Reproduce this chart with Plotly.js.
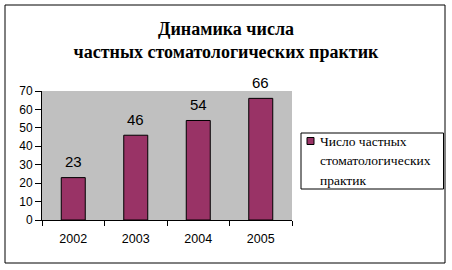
<!DOCTYPE html>
<html>
<head>
<meta charset="utf-8">
<script src="https://cdn.plot.ly/plotly-3.0.1.min.js"></script>
<style>html,body{margin:0;padding:0;background:#fff;}#chart{width:452px;height:270px;}</style>
</head>
<body>
<div id="chart"></div>
<script>
var years = ['2002', '2003', '2004', '2005'];
var counts = [23, 46, 54, 66];
var seriesName = 'Число частных<br>стоматологических<br>практик';
var titleText = 'Динамика числа<br>частных стоматологических практик';

var SERIF = "Liberation Serif";
var SANS = "Liberation Sans";

var W = 452, H = 270, L = 42, R = 160, T = 91, B = 50;
var pw = W - L - R, ph = H - T - B;
function px(x) { return (x - L) / pw; }
function py(y) { return (H - B - y) / ph; }

var trace = {
  type: 'bar',
  x: years,
  y: counts,
  name: seriesName,
  marker: {color: '#993366', line: {color: '#000', width: 1}},
  hoverinfo: 'none',
  showlegend: false
};

var annotations = years.map(function (yr, i) {
  return {
    x: i, y: counts[i], xref: 'x', yref: 'y',
    text: String(counts[i]), showarrow: false,
    yanchor: 'middle', yshift: 16,
    font: {family: SANS, size: 15, color: '#000'}
  };
});
seriesName.split('<br>').forEach(function (line, i) {
  annotations.push({
    xref: 'paper', yref: 'paper', x: px(318), y: py(141 + i * 19.5),
    xanchor: 'left', yanchor: 'middle', align: 'left',
    text: line, showarrow: false,
    font: {family: SERIF, size: 13.5, color: '#000'}
  });
});

var shapes = [
  {type: 'rect', xref: 'paper', yref: 'paper', x0: px(5), x1: px(445), y0: py(263), y1: py(5),
   line: {color: '#000', width: 1}, fillcolor: 'rgba(0,0,0,0)'},
  {type: 'rect', xref: 'paper', yref: 'paper', x0: px(301), x1: px(443.5), y0: py(189), y1: py(133),
   line: {color: '#000', width: 1}, fillcolor: '#fff'},
  {type: 'rect', xref: 'paper', yref: 'paper', x0: px(307), x1: px(314), y0: py(144.5), y1: py(137.5),
   line: {color: '#000', width: 1}, fillcolor: '#993366'}
];

var layout = {
  width: W, height: H,
  margin: {l: L, r: R, t: T, b: B, pad: 0},
  paper_bgcolor: '#fff',
  plot_bgcolor: '#C0C0C0',
  showlegend: false,
  bargap: 0.616,
  title: {
    text: titleText,
    font: {family: SERIF, size: 18, color: '#000', weight: 700},
    x: 226 / W, xref: 'container', xanchor: 'center',
    y: 1 - 35 / H, yref: 'container', yanchor: 'middle'
  },
  xaxis: {
    type: 'category',
    showline: true, linecolor: '#000', linewidth: 1,
    ticks: 'outside', tickson: 'boundaries', ticklen: 5, tickcolor: '#000',
    ticklabelstandoff: 7,
    showgrid: false, zeroline: false,
    tickfont: {family: SANS, size: 12.5, color: '#000'}
  },
  yaxis: {
    range: [0, 70], dtick: 10, tick0: 0,
    showline: true, linecolor: '#000', linewidth: 1,
    ticks: 'outside', ticklen: 6, tickcolor: '#000',
    showgrid: false, zeroline: false,
    tickfont: {family: SANS, size: 12, color: '#000'}
  },
  annotations: annotations,
  shapes: shapes
};

Plotly.newPlot('chart', [trace], layout, {staticPlot: true, displayModeBar: false});
</script>
</body>
</html>
